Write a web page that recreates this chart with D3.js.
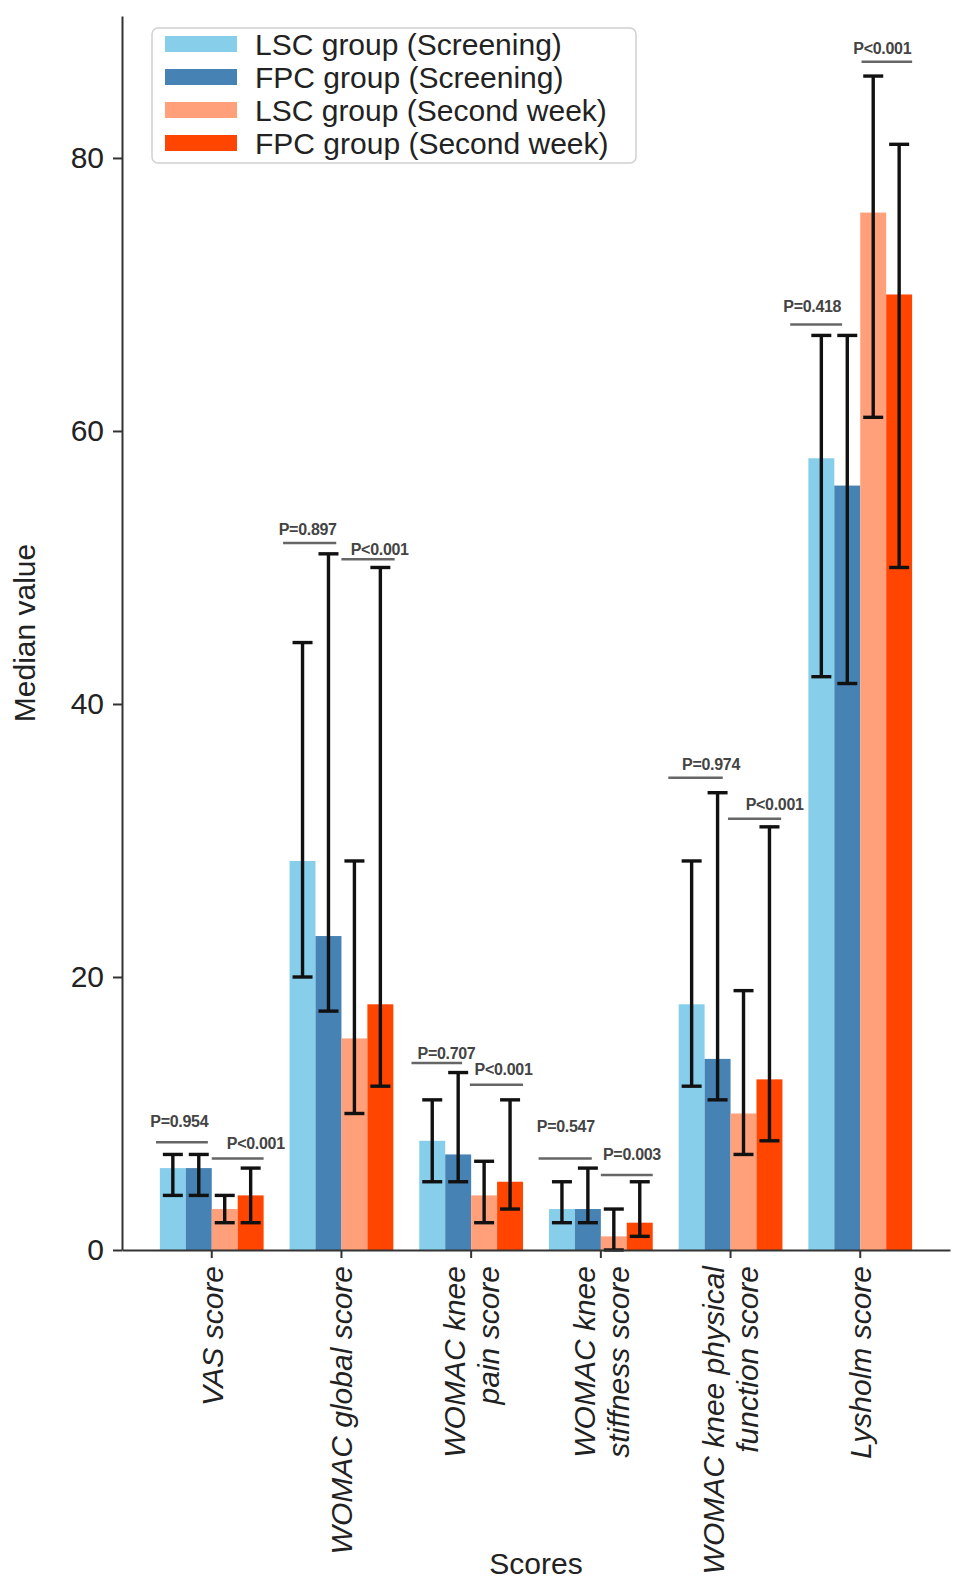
<!DOCTYPE html>
<html>
<head>
<meta charset="utf-8">
<script src="https://cdn.jsdelivr.net/npm/d3@7"></script>
<style>
  html, body { margin: 0; padding: 0; background: #fff; }
  svg { display: block; font-family: "Liberation Sans", Arial, Helvetica, sans-serif; }
</style>
</head>
<body>
<svg id="chart" width="969" height="1588"></svg>
<script>
// ---------------- data ----------------
const categories = ["VAS score", "WOMAC global score", "WOMAC knee\npain score",
  "WOMAC knee\nstiffness score", "WOMAC knee physical\nfunction score", "Lysholm score"];
const seriesNames = ["LSC group (Screening)", "FPC group (Screening)",
  "LSC group (Second week)", "FPC group (Second week)"];
const seriesColors = ["#87CEEB", "#4682B4", "#FFA07A", "#FF4500"];

const lscScreening      = [6, 28.5, 8, 3, 18, 58];
const lscScreeningLow   = [4, 20, 5, 2, 12, 42];
const lscScreeningHigh  = [7, 44.5, 11, 5, 28.5, 67];
const fpcScreening      = [6, 23, 7, 3, 14, 56];
const fpcScreeningLow   = [4, 17.5, 5, 2, 11, 41.5];
const fpcScreeningHigh  = [7, 51, 13, 6, 33.5, 67];
const lscSecond         = [3, 15.5, 4, 1, 10, 76];
const lscSecondLow      = [2, 10, 2, 0, 7, 61];
const lscSecondHigh     = [4, 28.5, 6.5, 3, 19, 86];
const fpcSecond         = [4, 18, 5, 2, 12.5, 70];
const fpcSecondLow      = [2, 12, 3, 1, 8, 50];
const fpcSecondHigh     = [6, 50, 11, 5, 31, 81];

const yTicks = [0, 20, 40, 60, 80];

// p-value annotations (x in category units relative to group centre, y in data units)
const pLabels = ["P=0.954", "P<0.001", "P=0.897", "P<0.001", "P=0.707", "P<0.001",
                 "P=0.547", "P=0.003", "P=0.974", "P<0.001", "P=0.418", "P<0.001"];
const pGroup  = [0, 0, 1, 1, 2, 2, 3, 3, 4, 4, 5, 5];
const pX1     = [-0.43, 0, -0.45, 0, -0.46, -0.01, -0.48, 0, -0.48, -0.02, -0.54, 0.01];
const pX2     = [-0.03, 0.40, -0.04, 0.41, -0.07, 0.40, -0.07, 0.40, -0.06, 0.39, -0.14, 0.40];
const pLineY  = [7.9, 6.7, 51.8, 50.6, 13.7, 12.1, 6.7, 5.5, 34.6, 31.6, 67.8, 87.05];
const pTextX  = [-0.25, 0.34, -0.26, 0.295, -0.19, 0.25, -0.27, 0.24, -0.15, 0.34, -0.37, 0.17];
const pTextY  = [9.0, 7.43, 52.4, 50.9, 14.0, 12.8, 8.67, 6.6, 35.2, 32.2, 68.7, 87.65];

// -------------- build --------------
(function () {
const FS = 30;
const medians = [lscScreening, fpcScreening, lscSecond, fpcSecond];
const lows    = [lscScreeningLow, fpcScreeningLow, lscSecondLow, fpcSecondLow];
const highs   = [lscScreeningHigh, fpcScreeningHigh, lscSecondHigh, fpcSecondHigh];

const records = [];
categories.forEach((c, ci) => {
  seriesNames.forEach((s, si) => {
    records.push({cat: c, ser: s, si, v: medians[si][ci], lo: lows[si][ci], hi: highs[si][ci]});
  });
});

const svg = d3.select("#chart");
const pLeft = 122, pRight = 950, pTop = 16, pBottom = 1250;

const x = d3.scaleBand().domain(categories).range([pLeft, pRight]).paddingInner(0).paddingOuter(0.192);
const xs = d3.scaleBand().domain(seriesNames).range([0, x.bandwidth()]).paddingInner(0).paddingOuter(0.5);
const y = d3.scaleLinear().domain([0, 90.4]).range([pBottom, pTop]);
const gx = (ci, u) => x(categories[ci]) + x.bandwidth() / 2 + u * x.step();

// bars
svg.append("g").selectAll("rect").data(records).join("rect")
  .attr("x", d => x(d.cat) + xs(d.ser))
  .attr("width", xs.bandwidth())
  .attr("y", d => y(d.v))
  .attr("height", d => y(0) - y(d.v))
  .attr("fill", d => seriesColors[d.si]);

// error bars
const capW = 20;
const eb = svg.append("g").attr("stroke", "#111").attr("stroke-width", 3.4);
records.forEach(d => {
  const cx = x(d.cat) + xs(d.ser) + xs.bandwidth() / 2;
  eb.append("line").attr("x1", cx).attr("x2", cx).attr("y1", y(d.lo)).attr("y2", y(d.hi));
  eb.append("line").attr("x1", cx - capW / 2).attr("x2", cx + capW / 2).attr("y1", y(d.lo)).attr("y2", y(d.lo));
  eb.append("line").attr("x1", cx - capW / 2).attr("x2", cx + capW / 2).attr("y1", y(d.hi)).attr("y2", y(d.hi));
});

// p-value annotations
const pg = svg.append("g");
pLabels.forEach((lab, i) => {
  pg.append("line")
    .attr("x1", gx(pGroup[i], pX1[i])).attr("x2", gx(pGroup[i], pX2[i]))
    .attr("y1", y(pLineY[i])).attr("y2", y(pLineY[i]))
    .attr("stroke", "#666").attr("stroke-width", 2.5);
  pg.append("text")
    .attr("x", gx(pGroup[i], pTextX[i])).attr("y", y(pTextY[i]))
    .attr("text-anchor", "middle").attr("font-size", 16).attr("fill", "#444")
    .attr("font-weight", "bold").attr("letter-spacing", -0.3)
    .text(lab);
});

// y axis
const yAxis = svg.append("g").attr("transform", `translate(${pLeft},0)`)
  .call(d3.axisLeft(y).tickValues(yTicks).tickSize(9).tickPadding(9).tickSizeOuter(0).tickFormat(d3.format("d")));
yAxis.select(".domain").attr("stroke", "#333").attr("stroke-width", 2);
yAxis.selectAll(".tick line").attr("stroke", "#333").attr("stroke-width", 2);
yAxis.selectAll(".tick text").attr("font-size", FS).attr("fill", "#222")
  .attr("font-family", "\"Liberation Sans\", Arial, sans-serif");

// x axis
const xAxis = svg.append("g").attr("transform", `translate(0,${pBottom})`)
  .call(d3.axisBottom(x).tickSize(8).tickSizeOuter(0).tickFormat(""));
xAxis.select(".domain").attr("stroke", "#333").attr("stroke-width", 2);
xAxis.selectAll(".tick line").attr("stroke", "#333").attr("stroke-width", 2);

// rotated category labels
categories.forEach(c => {
  const lines = c.split("\n");
  const cxp = x(c) + x.bandwidth() / 2;
  const t = svg.append("text")
    .attr("transform", `translate(${cxp},${pBottom + 16}) rotate(-90)`)
    .attr("text-anchor", "end").attr("font-size", FS).attr("font-style", "italic").attr("fill", "#222");
  const n = lines.length;
  lines.forEach((ln, li) => {
    t.append("tspan").attr("x", 0)
      .attr("y", ((li - (n - 1) / 2) * 1.13 + 0.36) + "em")
      .text(ln);
  });
});

// axis titles
svg.append("text").attr("x", (pLeft + pRight) / 2).attr("y", 1574)
  .attr("text-anchor", "middle").attr("font-size", FS).attr("fill", "#222").text("Scores");
svg.append("text").attr("transform", `translate(24,${(pTop + pBottom) / 2}) rotate(-90)`)
  .attr("text-anchor", "middle").attr("dy", "0.36em").attr("font-size", FS).attr("fill", "#222")
  .text("Median value");

// legend
const lg = svg.append("g");
lg.append("rect").attr("x", 152).attr("y", 28).attr("width", 484).attr("height", 135)
  .attr("rx", 6).attr("fill", "#fff").attr("fill-opacity", 0.85)
  .attr("stroke", "#d0d0d0").attr("stroke-width", 1.5);
seriesNames.forEach((s, i) => {
  const cy = 44 + i * 33;
  lg.append("rect").attr("x", 165).attr("y", cy - 8).attr("width", 72).attr("height", 16)
    .attr("fill", seriesColors[i]);
  lg.append("text").attr("x", 255).attr("y", cy).attr("dy", "0.36em")
    .attr("font-size", FS).attr("fill", "#222").text(s);
});
})();
</script>
</body>
</html>
